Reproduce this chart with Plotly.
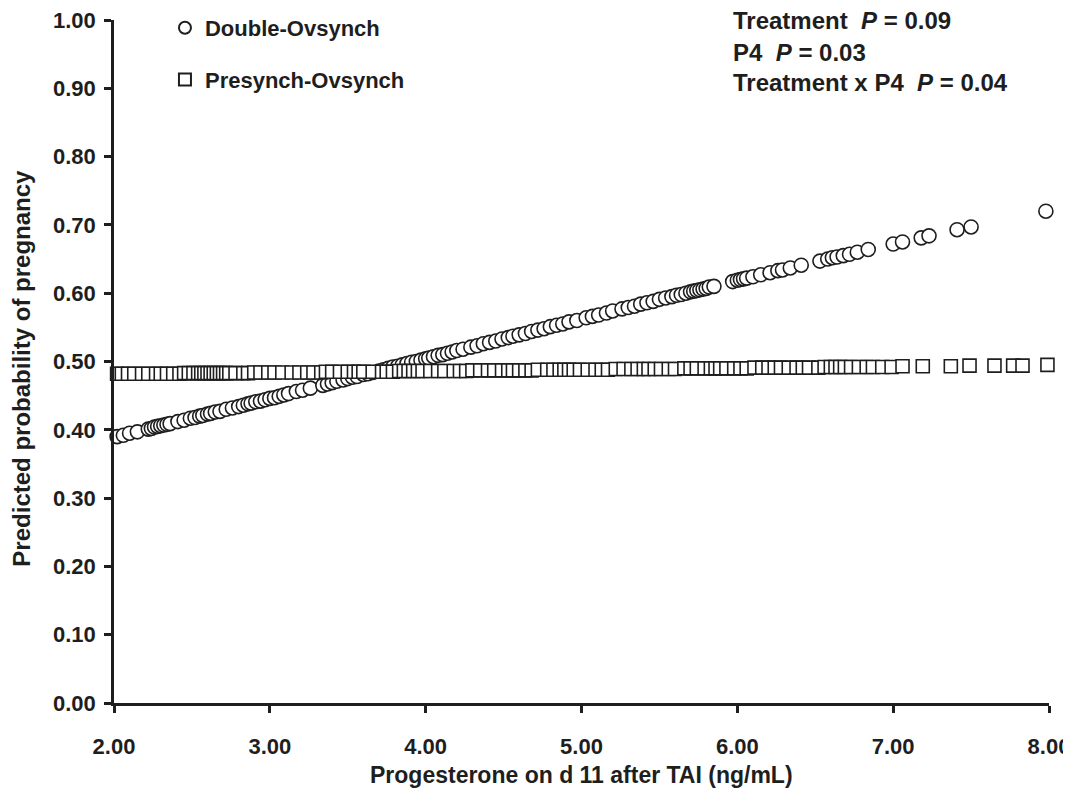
import plotly.graph_objects as go

# ---- data ----
double_x = [2.02, 2.06, 2.10, 2.15, 2.22, 2.24, 2.26, 2.28, 2.30, 2.32, 2.34, 2.36, 2.41, 2.45, 2.49,
            2.52, 2.55, 2.57, 2.60, 2.62, 2.65, 2.68, 2.72, 2.76, 2.80, 2.83, 2.86, 2.88, 2.91, 2.94,
            2.97, 3.00, 3.03, 3.06, 3.09, 3.12, 3.17, 3.21, 3.26, 3.34, 3.37, 3.40, 3.43, 3.47, 3.50,
            3.53, 3.56, 3.60, 3.63, 3.66, 3.70, 3.73, 3.76, 3.79, 3.82, 3.85, 3.88, 3.91, 3.94, 3.97,
            4.00, 4.02, 4.05, 4.08, 4.11, 4.14, 4.17, 4.20, 4.24, 4.29, 4.33, 4.37, 4.41, 4.45, 4.49,
            4.53, 4.56, 4.60, 4.64, 4.68, 4.72, 4.76, 4.80, 4.84, 4.88, 4.92, 4.97, 5.03, 5.07, 5.11,
            5.16, 5.20, 5.26, 5.30, 5.34, 5.38, 5.42, 5.46, 5.50, 5.54, 5.58, 5.61, 5.64, 5.67, 5.70,
            5.72, 5.74, 5.76, 5.78, 5.80, 5.82, 5.85, 5.97, 6.00, 6.02, 6.04, 6.06, 6.10, 6.15, 6.21,
            6.26, 6.29, 6.34, 6.41, 6.53, 6.58, 6.61, 6.64, 6.68, 6.72, 6.77, 6.84, 7.00, 7.06, 7.18,
            7.23, 7.41, 7.50, 7.98]
double_y = [0.390, 0.392, 0.395, 0.397, 0.401, 0.402, 0.404, 0.405, 0.406, 0.407, 0.408, 0.409, 0.412, 0.414, 0.417,
            0.418, 0.420, 0.421, 0.423, 0.424, 0.426, 0.427, 0.430, 0.432, 0.434, 0.436, 0.438, 0.439, 0.441, 0.442,
            0.444, 0.446, 0.447, 0.449, 0.451, 0.453, 0.456, 0.458, 0.461, 0.465, 0.467, 0.469, 0.471, 0.473, 0.475,
            0.477, 0.478, 0.481, 0.482, 0.484, 0.486, 0.488, 0.490, 0.492, 0.493, 0.495, 0.497, 0.499, 0.500, 0.502,
            0.504, 0.505, 0.507, 0.509, 0.510, 0.512, 0.514, 0.516, 0.518, 0.521, 0.523, 0.526, 0.528, 0.530, 0.533,
            0.535, 0.537, 0.539, 0.541, 0.544, 0.546, 0.548, 0.551, 0.553, 0.555, 0.558, 0.560, 0.564, 0.566, 0.568,
            0.571, 0.574, 0.577, 0.579, 0.581, 0.584, 0.586, 0.588, 0.591, 0.593, 0.595, 0.597, 0.598, 0.600, 0.602,
            0.603, 0.604, 0.605, 0.606, 0.607, 0.609, 0.610, 0.617, 0.619, 0.620, 0.621, 0.622, 0.624, 0.627, 0.630,
            0.633, 0.634, 0.637, 0.641, 0.647, 0.650, 0.652, 0.653, 0.655, 0.657, 0.660, 0.664, 0.672, 0.675, 0.681,
            0.684, 0.693, 0.697, 0.720]

presynch_x = [2.02, 2.05, 2.09, 2.13, 2.18, 2.22, 2.27, 2.30, 2.34, 2.38, 2.42, 2.45, 2.48, 2.51, 2.54,
              2.56, 2.58, 2.60, 2.62, 2.64, 2.66, 2.68, 2.70, 2.72, 2.74, 2.78, 2.83, 2.86, 2.90, 2.94,
              2.99, 3.03, 3.08, 3.14, 3.19, 3.24, 3.28, 3.33, 3.36, 3.40, 3.45, 3.50, 3.54, 3.57, 3.60,
              3.66, 3.72, 3.75, 3.79, 3.83, 3.86, 3.89, 3.92, 3.95, 3.98, 4.03, 4.08, 4.12, 4.18, 4.22,
              4.26, 4.30, 4.35, 4.40, 4.44, 4.49, 4.53, 4.56, 4.60, 4.64, 4.68, 4.72, 4.78, 4.82, 4.86,
              4.89, 4.92, 4.95, 4.99, 5.04, 5.09, 5.13, 5.17, 5.22, 5.27, 5.32, 5.36, 5.40, 5.43, 5.47,
              5.51, 5.56, 5.60, 5.66, 5.70, 5.74, 5.79, 5.83, 5.86, 5.89, 5.93, 5.98, 6.02, 6.06, 6.11,
              6.16, 6.20, 6.24, 6.28, 6.33, 6.38, 6.42, 6.46, 6.52, 6.56, 6.60, 6.63, 6.66, 6.69, 6.73,
              6.78, 6.83, 6.87, 6.93, 6.99, 7.06, 7.19, 7.37, 7.49, 7.65, 7.77, 7.83, 7.99]
presynch_y = [0.482, 0.482, 0.482, 0.482, 0.482, 0.482, 0.482, 0.482, 0.482, 0.482, 0.482, 0.483, 0.483, 0.483, 0.483,
              0.483, 0.483, 0.483, 0.483, 0.483, 0.483, 0.483, 0.483, 0.483, 0.483, 0.483, 0.483, 0.483, 0.484, 0.484,
              0.484, 0.484, 0.484, 0.484, 0.484, 0.484, 0.484, 0.484, 0.485, 0.485, 0.485, 0.485, 0.485, 0.485, 0.485,
              0.485, 0.485, 0.485, 0.485, 0.486, 0.486, 0.486, 0.486, 0.486, 0.486, 0.486, 0.486, 0.486, 0.486, 0.486,
              0.486, 0.487, 0.487, 0.487, 0.487, 0.487, 0.487, 0.487, 0.487, 0.487, 0.487, 0.488, 0.488, 0.488, 0.488,
              0.488, 0.488, 0.488, 0.488, 0.488, 0.488, 0.488, 0.488, 0.489, 0.489, 0.489, 0.489, 0.489, 0.489, 0.489,
              0.489, 0.489, 0.489, 0.490, 0.490, 0.490, 0.490, 0.490, 0.490, 0.490, 0.490, 0.490, 0.490, 0.490, 0.491,
              0.491, 0.491, 0.491, 0.491, 0.491, 0.491, 0.491, 0.491, 0.491, 0.492, 0.492, 0.492, 0.492, 0.492, 0.492,
              0.492, 0.492, 0.492, 0.492, 0.492, 0.493, 0.493, 0.493, 0.494, 0.494, 0.494, 0.494, 0.495]

series_names = ["Double-Ovsynch", "Presynch-Ovsynch"]
x_tick_values = [2, 3, 4, 5, 6, 7, 8]
y_tick_values = [0.0, 0.1, 0.2, 0.3, 0.4, 0.5, 0.6, 0.7, 0.8, 0.9, 1.0]
stat_lines = ["Treatment\u00a0\u00a0<i>P</i> = 0.09",
              "P4\u00a0\u00a0<i>P</i> = 0.03",
              "Treatment x P4\u00a0\u00a0<i>P</i> = 0.04"]
x_title = "Progesterone on d 11 after TAI (ng/mL)"
y_title = "Predicted probability of pregnancy"

FONT = "Liberation Sans, Arial, Helvetica, sans-serif"
INK = "#1e1e1e"

fig = go.Figure()
fig.add_trace(go.Scatter(
    x=double_x, y=double_y, mode="markers", name=series_names[0], legendgroup="a",
    marker=dict(symbol="circle", size=14, color="white", line=dict(color=INK, width=1.6)),
    cliponaxis=False,
))
fig.add_trace(go.Scatter(
    x=presynch_x, y=presynch_y, mode="markers", name=series_names[1], legendgroup="b",
    marker=dict(symbol="square", size=13, color="white", line=dict(color=INK, width=1.6)),
    cliponaxis=False,
))

axis_common = dict(
    showline=True, linecolor=INK, linewidth=2.5, mirror=False,
    ticks="outside", ticklen=7, tickwidth=2.5, tickcolor=INK,
    showgrid=False, zeroline=False, tickformat=".2f", automargin=False,
    ticklabeloverflow="allow",
    tickfont=dict(family=FONT, size=22, color=INK, weight="bold"),
)

fig.update_xaxes(range=[2, 8], tickvals=x_tick_values, ticklabelstandoff=15, **axis_common)
fig.update_yaxes(range=[0, 1], tickvals=y_tick_values, ticklabelstandoff=4, **axis_common)

# axis titles
fig.add_annotation(text=x_title, x=0.5, y=-0.1054, xref="paper", yref="paper",
                   xanchor="center", yanchor="middle", showarrow=False,
                   font=dict(family=FONT, size=23, color=INK, weight="bold"))
fig.add_annotation(text=y_title, x=-0.0984, y=0.491, xref="paper", yref="paper",
                   xanchor="center", yanchor="middle", showarrow=False, textangle=-90,
                   font=dict(family=FONT, size=24, color=INK, weight="bold"))

for txt, yp in zip(stat_lines, [1.0, 0.953, 0.908]):
    fig.add_annotation(text=txt, x=0.66, y=yp, xref="paper", yref="paper",
                       xanchor="left", yanchor="middle", showarrow=False,
                       font=dict(family=FONT, size=24, color=INK, weight="bold"))

fig.update_layout(
    width=1071, height=788,
    margin=dict(l=106, r=30, t=12, b=93, autoexpand=False),
    paper_bgcolor="white", plot_bgcolor="white",
    showlegend=True,
    legend=dict(x=0.0545, y=1.019, xanchor="left", yanchor="top",
                traceorder="grouped", tracegroupgap=20, itemsizing="constant",
                bgcolor="rgba(0,0,0,0)",
                font=dict(family=FONT, size=22, color=INK, weight="bold")),
)

fig.write_html("out.html")
